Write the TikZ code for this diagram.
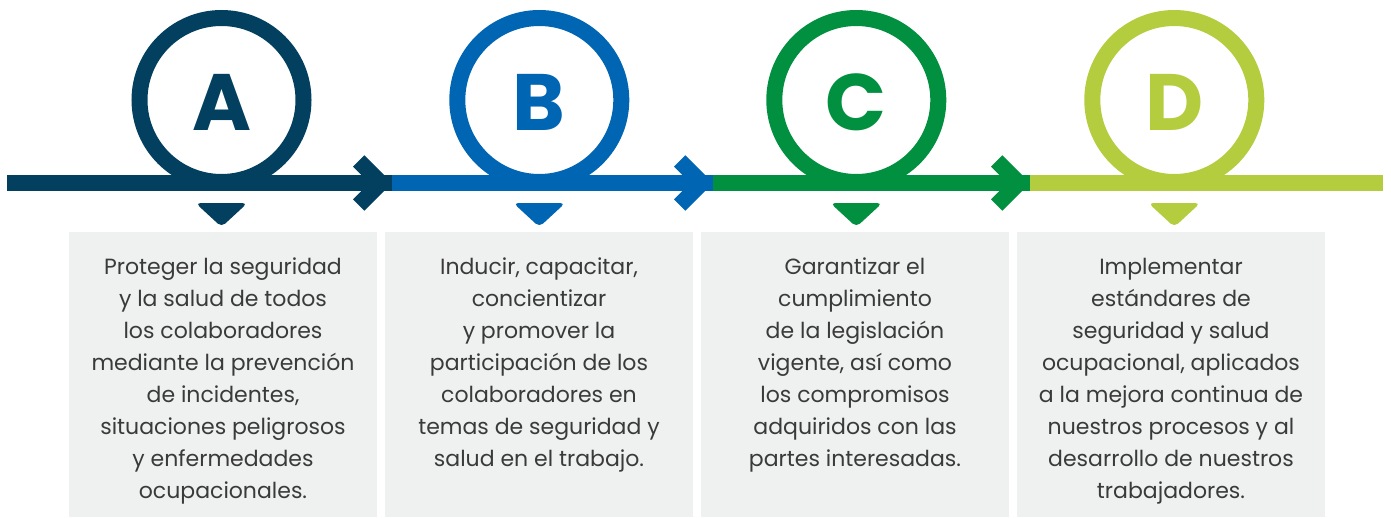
\documentclass[tikz,border=0pt]{standalone}
\usepackage{fontspec}
\setmainfont{Poppins}
\usetikzlibrary{calc}
\definecolor{colA}{HTML}{03405F}
\definecolor{colB}{HTML}{0065B3}
\definecolor{colC}{HTML}{00903F}
\definecolor{colD}{HTML}{B3CD3F}
\definecolor{boxgray}{HTML}{EEF1F0}
\definecolor{txtgray}{HTML}{3A3A3A}

\begin{document}
\begin{tikzpicture}[x=1pt,y=-1pt,
  box/.style={fill=boxgray,minimum width=308pt,minimum height=285pt,inner sep=0pt,anchor=north},
  desc/.style={anchor=north,inner sep=0pt,align=center,text=txtgray,font=\fontsize{22}{32}\selectfont},
  letter/.style={font=\bfseries\fontsize{80}{80}\selectfont}]
\useasboundingbox (0,0) rectangle (1391,517);
\coordinate (p0) at (7,183); \coordinate (p1) at (392,183); \coordinate (p2) at (713,183);
\coordinate (p3) at (1030,183); \coordinate (p4) at (1383,183);
\draw[colA,line width=16pt] (p0) -- (p1); \draw[colB,line width=16pt] (p1) -- (p2);
\draw[colC,line width=16pt] (p2) -- (p3); \draw[colD,line width=16pt] (p3) -- (p4);
\foreach \t/\col in {1/colA,2/colB,3/colC} {
  \draw[\col,line width=16pt,miter limit=4] ($(p\t)+(-33.3,-22)$) -- ($(p\t)+(-11.3,0)$) -- ($(p\t)+(-33.3,22)$); }
\foreach \n/\cx/\col in {A/221.5/colA,B/539.3/colB,C/856.3/colC,D/1174.3/colD} {
  \draw[\col,line width=16pt] (\cx,100) circle (82);
  \node[letter,text=\col] (l\n) at (\cx,102) {\n};
  \fill[\col,rounded corners=5pt] (\cx-26,203) -- (\cx+26,203) -- (\cx,227) -- cycle; }
\foreach \n/\bx in {A/223,B/539,C/855,D/1171} {
  \node[box] (box\n) at (\bx,232) {}; }
\node[desc] (txtA) at (223,258) {Proteger la seguridad\\y la salud de todos\\los colaboradores\\mediante la prevención\\de incidentes,\\situaciones peligrosos\\y enfermedades\\ocupacionales.};
\node[desc] (txtB) at (539,258) {Inducir, capacitar,\\concientizar\\y promover la\\participación de los\\colaboradores en\\temas de seguridad y\\salud en el trabajo.};
\node[desc] (txtC) at (855,258) {Garantizar el\\cumplimiento\\de la legislación\\vigente, así como\\los compromisos\\adquiridos con las\\partes interesadas.};
\node[desc] (txtD) at (1171,258) {Implementar\\estándares de\\seguridad y salud\\ocupacional, aplicados\\a la mejora continua de\\nuestros procesos y al\\desarrollo de nuestros\\trabajadores.};
\end{tikzpicture}
\end{document}
